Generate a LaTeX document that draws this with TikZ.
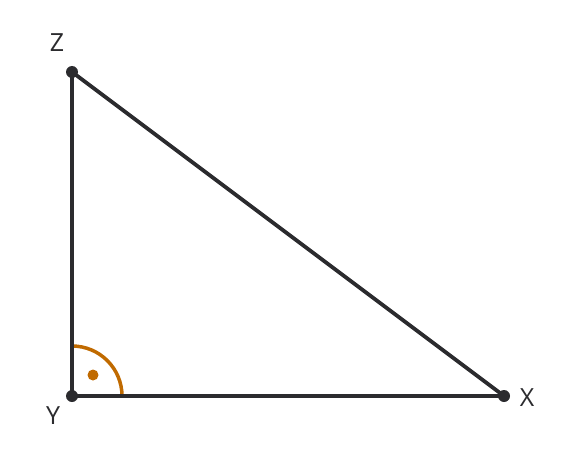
\documentclass[tikz,border=0pt]{standalone}
\usepackage{fontspec}
\setmainfont{Open Sans}
\definecolor{ink}{HTML}{2B2B2E}
\definecolor{ang}{HTML}{C06A00}
\begin{document}
\begin{tikzpicture}[x=1pt,y=-1pt,
  edge/.style={draw=ink,line width=3.8pt},
  vtx/.style={circle,fill=ink,inner sep=0pt,minimum size=12pt},
  lab/.style={text=ink,font=\fontsize{25}{25}\selectfont,inner sep=0pt}]
\useasboundingbox (0,0) rectangle (575,468);
\coordinate (Z) at (72,72);
\coordinate (Y) at (72,396);
\coordinate (X) at (504,396);
\draw[draw=ang,line width=3.5pt] (72,346) arc[start angle=-90,end angle=0,radius=50];
\fill[ang] (93,375) circle[radius=5.5];
\draw[edge,line join=round] (Z) -- (Y) -- (X) -- cycle;
\node[vtx] (z) at (Z) {};
\node[vtx] (y) at (Y) {};
\node[vtx] (x) at (X) {};
\node[lab] (lz) at (57,43) {Z};
\node[lab] (ly) at (53,416) {Y};
\node[lab] (lx) at (527,398) {X};
\end{tikzpicture}
\end{document}
